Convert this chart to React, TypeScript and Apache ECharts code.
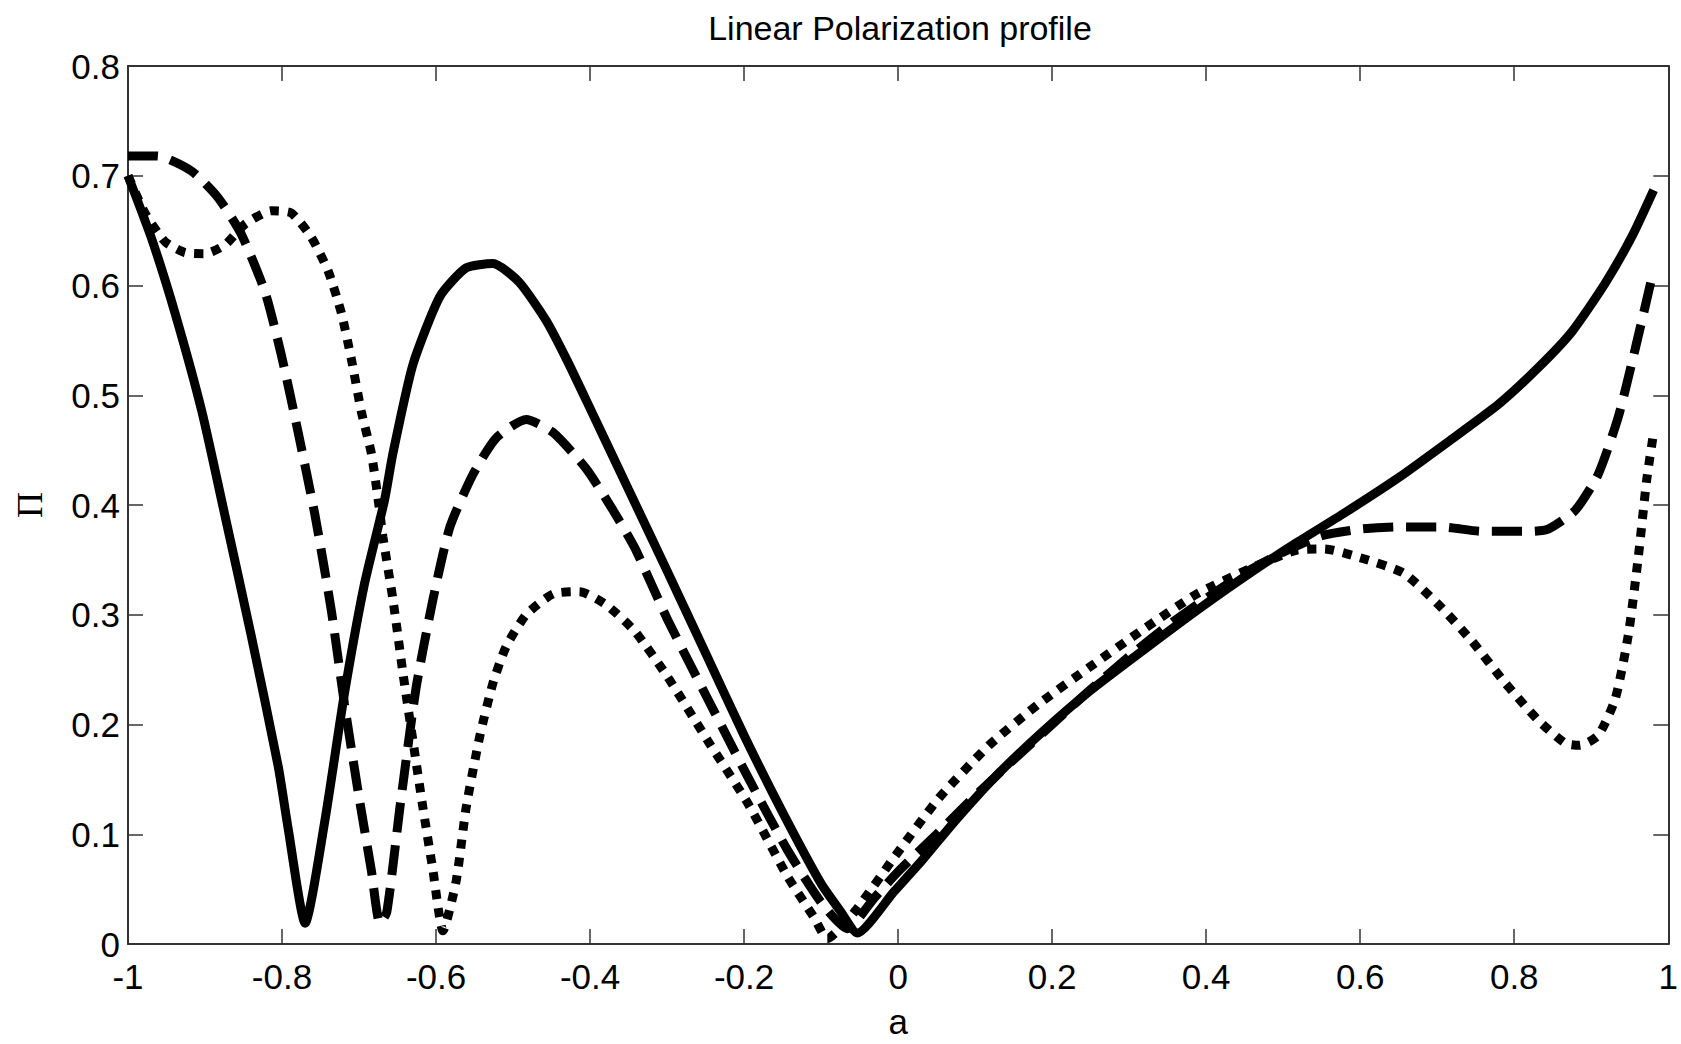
import React, { useEffect, useRef } from "react";
import * as echarts from "echarts";

const titleText = "Linear Polarization profile";
const xTickValues = [-1, -0.8, -0.6, -0.4, -0.2, 0, 0.2, 0.4, 0.6, 0.8, 1];
const yTickValues = [0, 0.1, 0.2, 0.3, 0.4, 0.5, 0.6, 0.7, 0.8];

const solidX = [-1, -0.969, -0.939, -0.904, -0.874, -0.84, -0.805, -0.792, -0.77, -0.744, -0.719, -0.693, -0.667, -0.656, -0.63, -0.595, -0.561, -0.526, -0.492, -0.457, -0.43, -0.4, -0.35, -0.3, -0.25, -0.2, -0.15, -0.1, -0.075, -0.053, -0.005, 0.032, 0.075, 0.127, 0.187, 0.248, 0.319, 0.388, 0.457, 0.518, 0.578, 0.65, 0.715, 0.78, 0.831, 0.875, 0.918, 0.953, 0.981];
const solidY = [0.7, 0.642, 0.575, 0.485, 0.39, 0.281, 0.162, 0.105, 0.019, 0.114, 0.228, 0.328, 0.404, 0.447, 0.528, 0.59, 0.616, 0.62, 0.603, 0.568, 0.532, 0.488, 0.414, 0.34, 0.265, 0.19, 0.12, 0.055, 0.03, 0.01, 0.048, 0.077, 0.113, 0.153, 0.193, 0.23, 0.268, 0.304, 0.338, 0.366, 0.392, 0.425, 0.458, 0.492, 0.525, 0.558, 0.602, 0.645, 0.687];

const dashedX = [-1, -0.962, -0.917, -0.883, -0.853, -0.822, -0.801, -0.779, -0.757, -0.736, -0.719, -0.701, -0.684, -0.673, -0.664, -0.647, -0.626, -0.604, -0.582, -0.552, -0.522, -0.483, -0.448, -0.405, -0.37, -0.342, -0.299, -0.247, -0.195, -0.144, -0.1, -0.066, -0.031, 0, 0.05, 0.1, 0.15, 0.2, 0.25, 0.3, 0.35, 0.4, 0.45, 0.5, 0.55, 0.6, 0.65, 0.706, 0.758, 0.822, 0.844, 0.879, 0.909, 0.935, 0.957, 0.978];
const dashedY = [0.718, 0.718, 0.704, 0.68, 0.647, 0.594, 0.537, 0.466, 0.39, 0.304, 0.219, 0.138, 0.067, 0.019, 0.029, 0.124, 0.233, 0.314, 0.38, 0.428, 0.461, 0.478, 0.466, 0.433, 0.395, 0.361, 0.295, 0.223, 0.152, 0.086, 0.038, 0.014, 0.042, 0.066, 0.1, 0.135, 0.168, 0.2, 0.232, 0.262, 0.29, 0.315, 0.338, 0.357, 0.372, 0.378, 0.38, 0.38, 0.376, 0.376, 0.378, 0.395, 0.428, 0.48, 0.542, 0.605];

const dottedX = [-1, -0.978, -0.952, -0.926, -0.9, -0.874, -0.848, -0.814, -0.788, -0.762, -0.74, -0.723, -0.71, -0.697, -0.684, -0.675, -0.669, -0.656, -0.643, -0.63, -0.617, -0.604, -0.591, -0.574, -0.561, -0.543, -0.526, -0.509, -0.483, -0.448, -0.414, -0.379, -0.342, -0.299, -0.247, -0.195, -0.144, -0.109, -0.092, -0.057, -0.003, 0.053, 0.118, 0.183, 0.248, 0.319, 0.388, 0.457, 0.518, 0.553, 0.6, 0.656, 0.702, 0.745, 0.788, 0.831, 0.866, 0.885, 0.909, 0.931, 0.948, 0.961, 0.972, 0.981];
const dottedY = [0.7, 0.666, 0.64, 0.63, 0.629, 0.637, 0.656, 0.668, 0.666, 0.644, 0.613, 0.575, 0.533, 0.485, 0.447, 0.404, 0.371, 0.314, 0.247, 0.185, 0.124, 0.067, 0.012, 0.057, 0.124, 0.19, 0.238, 0.271, 0.3, 0.319, 0.321, 0.309, 0.285, 0.243, 0.185, 0.128, 0.062, 0.024, 0.005, 0.029, 0.081, 0.133, 0.181, 0.219, 0.252, 0.287, 0.319, 0.342, 0.359, 0.36, 0.352, 0.338, 0.309, 0.276, 0.238, 0.204, 0.183, 0.181, 0.19, 0.223, 0.281, 0.352, 0.423, 0.466];

const zip = (xs: number[], ys: number[]) => xs.map((x, i) => [x, ys[i]]);

const FONT = "'Liberation Sans', Arial, Helvetica, sans-serif";
const AXIS_COLOR = "#333333";
const LABEL_SIZE = 35;

export default function App() {
  const ref = useRef<HTMLDivElement>(null);
  useEffect(() => {
    document.body.style.margin = "0";
    const chart = echarts.init(ref.current!, undefined, { renderer: "svg" });
    const fmt = (v: number) => String(Math.round(v * 10) / 10);
    const axisCommon = {
      axisLine: { show: true, onZero: false, lineStyle: { color: AXIS_COLOR, width: 2 } },
      axisTick: { show: true, inside: true, length: 15, lineStyle: { color: AXIS_COLOR, width: 1.5 } },
      splitLine: { show: false },
    };
    chart.setOption({
      animation: false,
      backgroundColor: "#ffffff",
      title: {
        text: titleText,
        left: 895,
        top: 6,
        textAlign: "center",
        textStyle: { fontFamily: FONT, fontSize: 34, fontWeight: "normal", color: "#000" },
      },
      grid: { left: 128, right: 11, top: 66, bottom: 96, containLabel: false },
      xAxis: [
        {
          type: "value",
          position: "bottom",
          min: xTickValues[0],
          max: xTickValues[xTickValues.length - 1],
          interval: 0.2,
          ...axisCommon,
          axisLabel: { show: true, margin: 15, fontFamily: FONT, fontSize: LABEL_SIZE, color: "#000", formatter: fmt },
          name: "a",
          nameLocation: "middle",
          nameGap: 60,
          nameTextStyle: { fontFamily: FONT, fontSize: LABEL_SIZE, color: "#000" },
        },
        {
          type: "value",
          position: "top",
          min: xTickValues[0],
          max: xTickValues[xTickValues.length - 1],
          interval: 0.2,
          ...axisCommon,
          axisLabel: { show: false },
        },
      ],
      yAxis: [
        {
          type: "value",
          position: "left",
          min: yTickValues[0],
          max: yTickValues[yTickValues.length - 1],
          interval: 0.1,
          ...axisCommon,
          axisLabel: { show: true, margin: 8, fontFamily: FONT, fontSize: LABEL_SIZE, color: "#000", formatter: fmt },
          name: "Π",
          nameLocation: "middle",
          nameGap: 80,
          nameTextStyle: { fontFamily: "'Liberation Serif', 'DejaVu Serif', serif", fontSize: 36, color: "#000" },
        },
        {
          type: "value",
          position: "right",
          min: yTickValues[0],
          max: yTickValues[yTickValues.length - 1],
          interval: 0.1,
          ...axisCommon,
          axisLabel: { show: false },
        },
      ],
      series: [
        {
          type: "line",
          name: "solid",
          data: zip(solidX, solidY),
          showSymbol: false,
          symbol: "none",
          smooth: 0.2,
          lineStyle: { color: "#000", width: 9, type: "solid" },
        },
        {
          type: "line",
          name: "dashed",
          data: zip(dashedX, dashedY),
          showSymbol: false,
          symbol: "none",
          smooth: 0.2,
          lineStyle: { color: "#000", width: 9, type: [30, 13] },
        },
        {
          type: "line",
          name: "dotted",
          data: zip(dottedX, dottedY),
          showSymbol: false,
          symbol: "none",
          smooth: 0.2,
          lineStyle: { color: "#000", width: 9, type: [9, 9] },
        },
      ],
    });
    return () => chart.dispose();
  }, []);
  return (
    <div
      ref={ref}
      style={{ position: "absolute", left: 0, top: 0, width: 1681, height: 1044, background: "#fff" }}
    />
  );
}
